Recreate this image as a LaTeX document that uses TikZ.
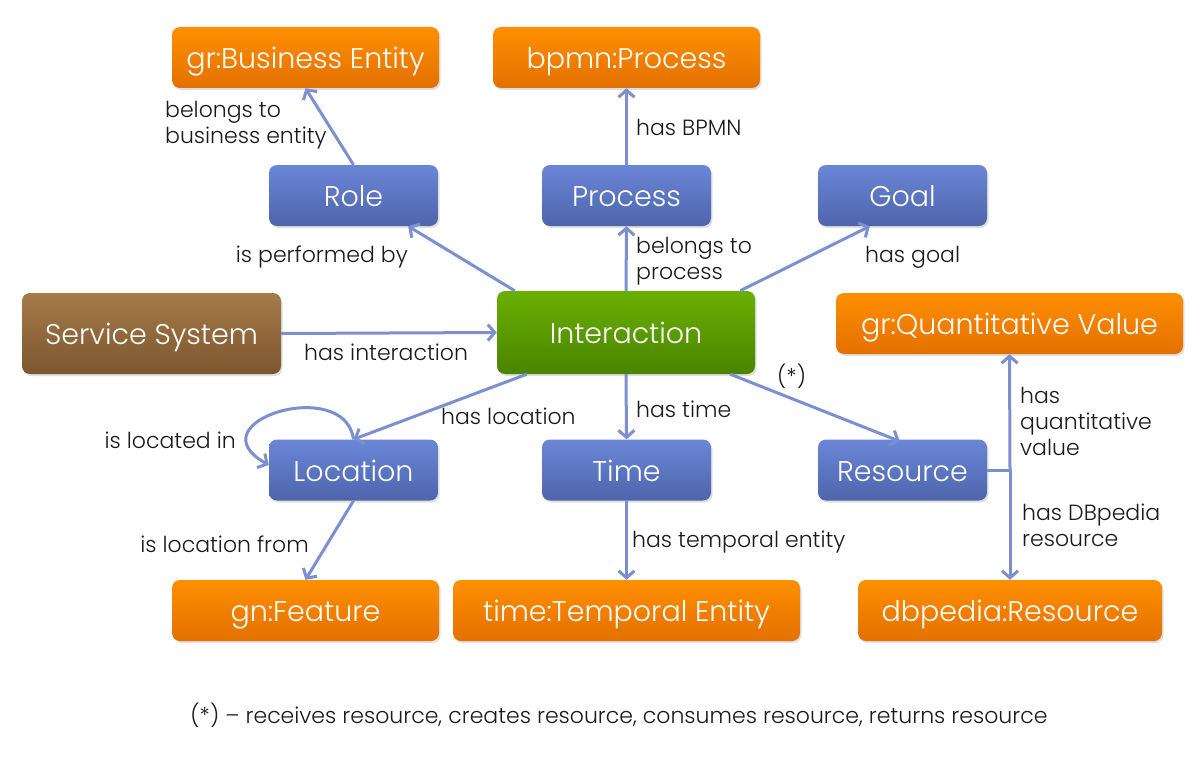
\documentclass[tikz,border=0pt]{standalone}
\usepackage{fontspec}
\setmainfont{Poppins Light}
\usetikzlibrary{arrows.meta,shadows}
\definecolor{orT}{HTML}{FF8F00}
\definecolor{orB}{HTML}{E27000}
\definecolor{blT}{HTML}{6A86D6}
\definecolor{blB}{HTML}{4E65AC}
\definecolor{grT}{HTML}{6AB000}
\definecolor{grB}{HTML}{4A8400}
\definecolor{brT}{HTML}{A67B48}
\definecolor{brB}{HTML}{7B5630}
\definecolor{edgec}{HTML}{7B8FD1}
\definecolor{txt}{HTML}{1A1A1A}
\tikzset{
  box/.style={rounded corners=8pt, minimum height=61pt, text=white, inner sep=0pt,
    font=\fontsize{28.5}{32}\selectfont, text height=24pt, text depth=2pt,
    drop shadow={opacity=0.25, shadow xshift=1.5pt, shadow yshift=-2pt}},
  obox/.style={box, top color=orT, bottom color=orB},
  bbox/.style={box, top color=blT, bottom color=blB, minimum width=169pt},
  link/.style={draw=edgec, line width=3pt},
  arr/.style={link, -{Straight Barb[length=7pt,width=16pt,line width=3pt]}},
  lbl/.style={text=txt, font=\fontsize{22}{26}\selectfont, inner sep=0pt, align=left},
}
\begin{document}
\begin{tikzpicture}[x=1pt,y=-1pt]
\useasboundingbox (0,0) rectangle (1194,757);
\fill[white] (0,0) rectangle (1194,757);
% nodes
\node[obox, minimum width=267pt] (be) at (305.5,57.5) {gr:Business Entity};
\node[obox, minimum width=267pt] (bp) at (626.5,57.5) {bpmn:Process};
\node[bbox] (role) at (353.5,195.5) {Role};
\node[bbox] (proc) at (626.5,195.5) {Process};
\node[bbox] (goal) at (902.5,195.5) {Goal};
\node[box, top color=brT, bottom color=brB, minimum width=259pt, minimum height=81pt] (ss) at (151.5,333.5) {Service System};
\node[box, top color=grT, bottom color=grB, minimum width=258pt, minimum height=83pt] (inter) at (626,332.5) {Interaction};
\node[obox, minimum width=347pt] (qv) at (1009.5,323.5) {gr:Quantitative Value};
\node[bbox] (loc) at (353.5,470) {Location};
\node[bbox] (time) at (626.5,470) {Time};
\node[bbox] (res) at (902.5,470) {Resource};
\node[obox, minimum width=267pt] (gn) at (305.5,610.5) {gn:Feature};
\node[obox, minimum width=347pt] (te) at (626.5,610.5) {time:Temporal Entity};
\node[obox, minimum width=304pt] (dbp) at (1010,610.5) {dbpedia:Resource};
% edges
\draw[arr] (role.north) -- (be.south);
\draw[arr] (proc.north) -- (bp.south);
\draw[arr] ([xshift=18pt]inter.north west) -- ([xshift=-30pt]role.south east);
\draw[arr] (inter.north) -- (proc.south);
\draw[arr] ([xshift=-15pt]inter.north east) -- ([xshift=52pt]goal.south west);
\draw[arr] (ss.east) -- (inter.west);
\draw[arr] ([xshift=30pt]inter.south west) -- (loc.north);
\draw[arr] (inter.south) -- (time.north);
\draw[arr] ([xshift=-25pt]inter.south east) -- ([xshift=82pt,yshift=-2pt]res.north west);
\draw[arr] (loc.north) .. controls (345,375) and (192,422) .. ([yshift=5pt]loc.west);
\draw[arr] (loc.south) -- (gn.north);
\draw[arr] (time.south) -- (te.north);
\coordinate (j) at (1010,470);
\draw[link] (res.east) -- (j);
\draw[arr] (j) -- (qv.south);
\draw[arr] (j) -- (dbp.north);
% labels
\node[lbl, anchor=west] (l1) at (165,125) {belongs to\\business entity};
\node[lbl, anchor=west] (l2) at (636,127) {has BPMN};
\node[lbl, anchor=east] (l3) at (408,257) {is performed by};
\node[lbl, anchor=west] (l4) at (636,261) {belongs to\\process};
\node[lbl, anchor=west] (l5) at (865,257) {has goal};
\node[lbl, anchor=west] (l6) at (304,352) {has interaction};
\node[lbl, anchor=west] (l7) at (441,416) {has location};
\node[lbl, anchor=west] (l8) at (636,409) {has time};
\node[lbl, anchor=west] (l9) at (777,376) {(*)};
\node[lbl, anchor=east] (l10) at (236,440) {is located in};
\node[lbl, anchor=west] (l11) at (1020,421) {has\\quantitative\\value};
\node[lbl, anchor=west] (l12) at (1022,525) {has DBpedia\\resource};
\node[lbl, anchor=east] (l13) at (309,544) {is location from};
\node[lbl, anchor=west] (l14) at (632,542) {has temporal entity};
\node[lbl] (cap) at (619,715) {(*) – receives resource, creates resource, consumes resource, returns resource};
\end{tikzpicture}
\end{document}
